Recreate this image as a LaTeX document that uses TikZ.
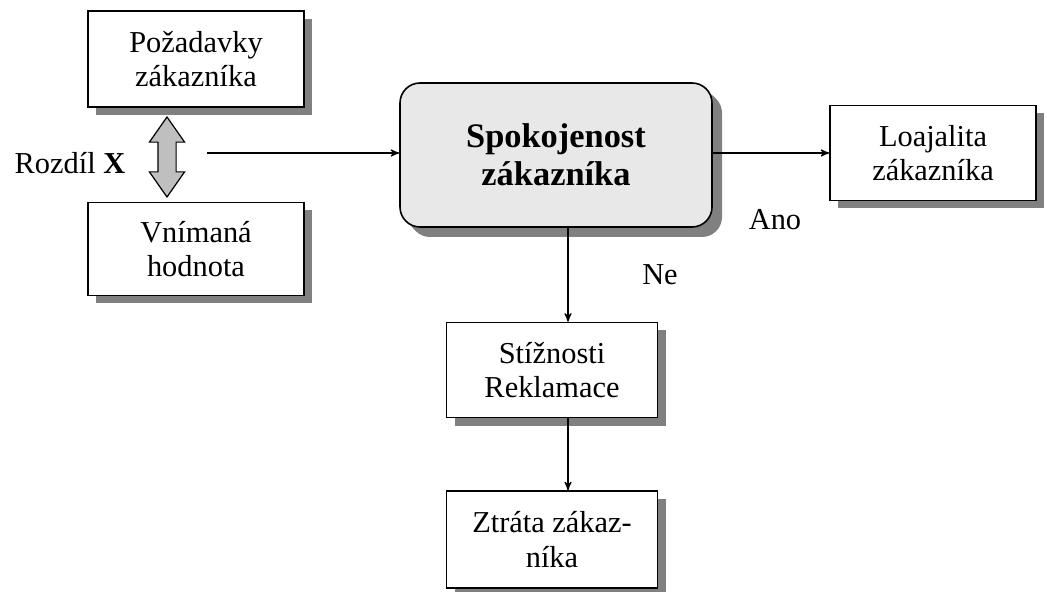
\documentclass[tikz,border=0pt]{standalone}
\usepackage{fontspec}
\setmainfont{Liberation Serif}
\usetikzlibrary{arrows, shapes.arrows, shadows, positioning}
\tikzset{box/.style={draw, fill=white, line width=0.8pt, align=center, inner sep=0pt,
    minimum width=106pt, minimum height=47pt, font=\fontsize{15.2}{17.2}\selectfont,
    drop shadow={shadow xshift=4pt, shadow yshift=-4pt, fill=gray, opacity=1}}}
\tikzset{label text/.style={font=\fontsize{15.2}{17.2}\selectfont, inner sep=0pt}}

\begin{document}
\begin{tikzpicture}[x=0.5pt, y=-0.5pt, >=stealth', line width=0.6pt]
\useasboundingbox (0,0) rectangle (1047,592);
\node[box, minimum width=108pt, minimum height=48pt] (poz) at (196,59) {Požadavky\\zákazníka};
\node[box, minimum width=108pt, minimum height=46.5pt] (vnim) at (196,249) {Vnímaná\\hodnota};
\node[draw, line width=0.6pt, fill=gray!50, double arrow, rotate=90, inner xsep=0pt,
    inner ysep=4.25pt, minimum height=40pt, double arrow head extend=4.25pt,
    double arrow tip angle=70] (gap) at (167,157) {};
\node[label text] (rozdil) at (70,163) {Rozdíl \textbf{X}};
\coordinate (start) at (207,153);
\node[box, fill=gray!18, rounded corners=10pt, minimum width=156pt, minimum height=72pt,
    font=\fontsize{17.2}{19.2}\selectfont\bfseries,
    drop shadow={shadow xshift=5pt, shadow yshift=-5pt, fill=gray, opacity=1}] (spok) at (556,155) {Spokojenost\\zákazníka};
\node[box, minimum width=103pt, minimum height=47.5pt] (loaj) at (933,153) {Loajalita\\zákazníka};
\node[label text] (ano) at (775,220) {Ano};
\node[label text] (ne) at (660,275) {Ne};
\node[box, minimum width=105.5pt, minimum height=47.5pt] (stiz) at (552,370) {Stížnosti\\Reklamace};
\node[box, minimum width=105.5pt, minimum height=48.5pt, below=36pt of stiz] (ztrata) {Ztráta zákaz-\\níka};
\coordinate (mid) at (568,0);
% connectors
\draw[->] (start) -- (spok.west |- start);
\draw[->] (spok.east |- loaj.west) -- (loaj.west);
\draw[->] (spok.south -| mid) -- (stiz.north -| mid);
\draw[->] (stiz.south -| mid) -- (ztrata.north -| mid);
\end{tikzpicture}
\end{document}
